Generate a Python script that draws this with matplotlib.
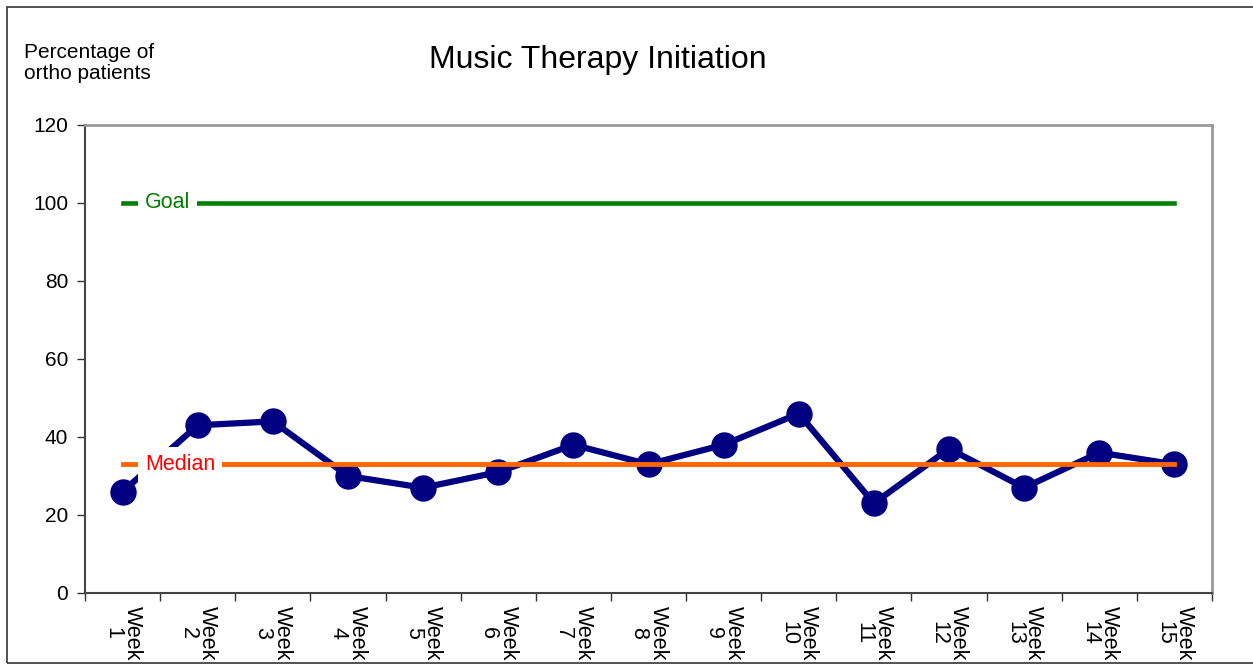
import matplotlib
matplotlib.use("Agg")
import matplotlib.pyplot as plt
from matplotlib.patches import Rectangle

weeks = ["Week\n1", "Week\n2", "Week\n3", "Week\n4", "Week\n5", "Week\n6", "Week\n7", "Week\n8",
         "Week\n9", "Week\n10", "Week\n11", "Week\n12", "Week\n13", "Week\n14", "Week\n15"]
values = [26, 43, 44, 30, 27, 31, 38, 33, 38, 46, 23, 37, 27, 36, 33]
goal = [100] * 15
median = [33] * 15
yticks = [0, 20, 40, 60, 80, 100, 120]

plt.rcParams['font.family'] = ['Liberation Sans', 'DejaVu Sans']

fig = plt.figure(figsize=(12.53, 6.65), dpi=100)
ax = fig.add_axes([85/1253, 1-593/665, (1212-85)/1253, (593-125)/665])

x = list(range(len(weeks)))
ax.plot(x, values, color='#000080', lw=4.5, marker='o', ms=18, zorder=3)
ax.plot(x, goal, color='#008000', lw=3.3, zorder=4)
ax.plot(x, median, color='#FF6600', lw=3.5, zorder=4)

ax.text(0.6, 100, "Goal", color='#008000', fontsize=15.5, ha='center', va='center',
        bbox=dict(facecolor='white', edgecolor='none', pad=5), zorder=5)
ax.text(0.77, 33, "Median", color='#FF0000', fontsize=15.5, ha='center', va='center',
        bbox=dict(facecolor='white', edgecolor='none', pad=5), zorder=5)

ax.set_xlim(-0.5, len(weeks) - 0.5)
ax.set_ylim(0, 120)
ax.set_yticks(yticks)
ax.set_yticklabels([str(v) for v in yticks], fontsize=15)
ax.set_xticks(x)
ax.set_xticklabels(weeks, rotation=-90, fontsize=15.5, ha='center', va='top',
                   linespacing=0.9)
ax.tick_params(axis='x', length=0, pad=9)
ax.set_xticks([i - 0.5 for i in range(len(weeks) + 1)], minor=True)
ax.tick_params(axis='x', which='minor', length=6, width=1, color='#333333')
ax.tick_params(axis='y', length=6, width=1, color='#333333', pad=6)

for s in ['top', 'right']:
    ax.spines[s].set_color('#999999')
    ax.spines[s].set_linewidth(2)
for s in ['left', 'bottom']:
    ax.spines[s].set_color('#444444')
    ax.spines[s].set_linewidth(1.5)

fig.text(598/1253, 1-60/665, "Music Therapy Initiation", fontsize=23, ha='center', va='center')
fig.text(24/1253, 1-63/665, "Percentage of\northo patients", fontsize=15, ha='left', va='center',
         linespacing=1.1)

fig.patches.append(Rectangle((7/1253, 1-663/665), 1.2, (663-7)/665, transform=fig.transFigure,
                             fill=False, edgecolor='#333333', lw=1.2, zorder=10))

fig.savefig("out.png", dpi=100)
